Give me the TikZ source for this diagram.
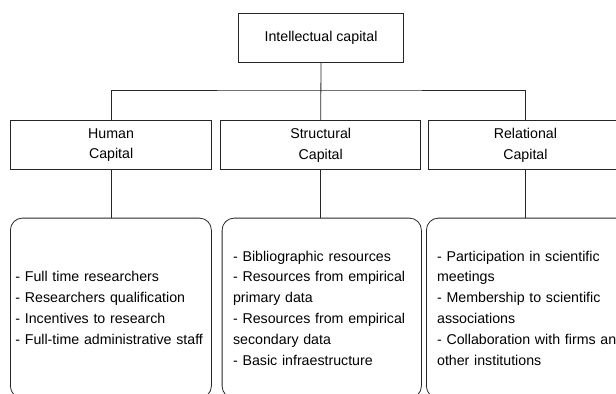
\documentclass[tikz,border=0pt]{standalone}
\usepackage{fontspec}
\setmainfont{Liberation Sans}
\begin{document}
\begin{tikzpicture}[x=1bp,y=-1bp,
  every node/.style={font=\fontsize{14.2bp}{20.8bp}\selectfont},
  line/.style={draw=black!85, line width=0.8bp},
  topbox/.style={line, rectangle, minimum width=164.6bp, minimum height=49bp, inner sep=0pt},
  midbox/.style={line, rectangle, minimum height=48.6bp, inner sep=0pt, align=center},
  listbox/.style={line, rectangle, rounded corners=12bp, minimum height=180bp, align=left, anchor=north west}
]
\useasboundingbox (0,0) rectangle (616,393);
\node[topbox] (top) at (321,37.8) {Intellectual capital};
\node[midbox, minimum width=200.8bp] (mid1) at (111.1,145) {Human\\Capital};
\node[midbox, minimum width=200bp] (mid2) at (320.7,145) {Structural\\Capital};
\node[midbox, minimum width=193.4bp] (mid3) at (525.4,145) {Relational\\Capital};
\node[listbox, text width=191bp, inner xsep=5bp, inner ysep=0pt] (rb1) at (10,217.7)
 {- Full time researchers\\- Researchers qualification\\- Incentives to research\\- Full-time administrative staff};
\node[listbox, text width=177.3bp, inner xsep=11bp, inner ysep=0pt] (rb2) at (221.7,217.7)
 {- Bibliographic resources\\- Resources from empirical\\primary data\\- Resources from empirical\\secondary data\\- Basic infraestructure};
\node[listbox, text width=210bp, inner xsep=10.7bp, inner ysep=0pt] (rb3) at (426,217.7)
 {- Participation in scientific\\meetings\\- Membership to scientific\\associations\\- Collaboration with firms and\\other institutions};
\coordinate (bar) at (320.7,90);
\draw[line] (top.south) -- (mid2.north);
\draw[line] (mid1.north) |- (bar) -| (mid3.north);
\draw[line] (mid1.south) -- (mid1.south |- rb1.north);
\draw[line] (mid2.south) -- (mid2.south |- rb2.north);
\draw[line] (mid3.south) -- (mid3.south |- rb3.north);
\end{tikzpicture}
\end{document}
